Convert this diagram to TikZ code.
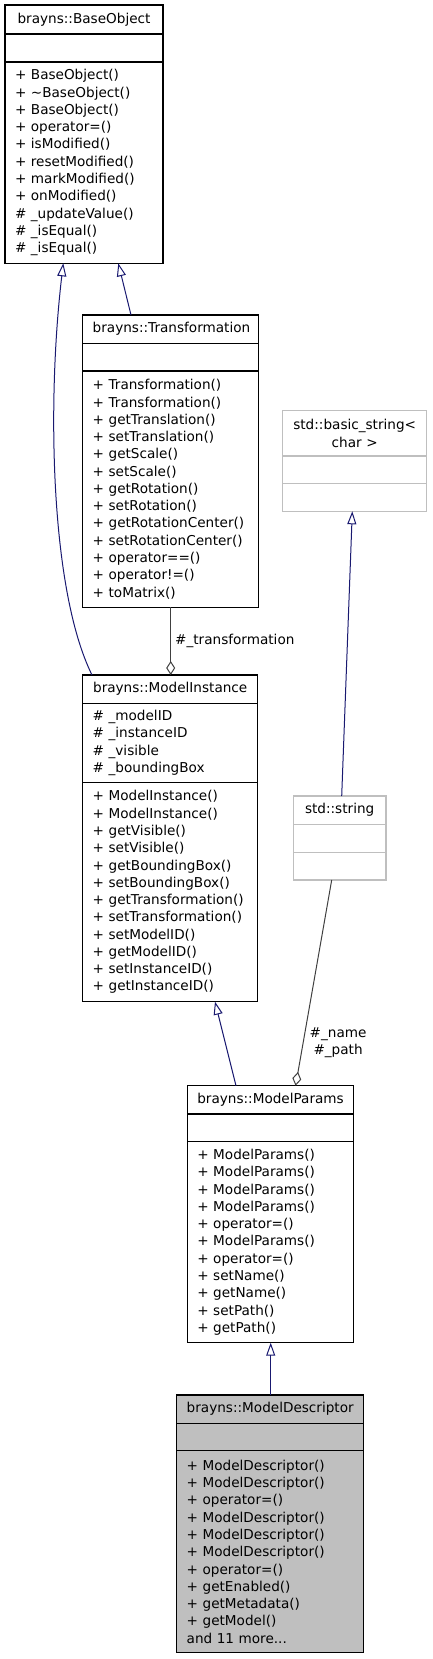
\documentclass[tikz,border=0pt]{standalone}
\usepackage{fontspec}
\newfontfamily\dvsans{DejaVu Sans}
\usetikzlibrary{arrows.meta}
\definecolor{edgeblue}{HTML}{191970}
\definecolor{edgegray}{HTML}{404040}
\definecolor{stdgray}{HTML}{BFBFBF}
\definecolor{descfill}{HTML}{BFBFBF}
\newcommand\umlfont{\dvsans\fontsize{13.6pt}{17.27pt}\selectfont}
\tikzset{
  x=1pt, y=-1pt,
  part/.style={draw=black, line width=1.1pt, rectangle, anchor=north west, outer sep=0pt,
    inner xsep=10pt, inner ysep=0pt, font=\umlfont, text width=#1},
  ttl/.style={align=center},
  lst/.style={align=left},
  stdpart/.style={draw=stdgray},
  inh/.style={draw=edgeblue, line width=1pt, -{Triangle[open, length=13pt, width=9pt]}},
  agg/.style={draw=edgegray, line width=1pt, -{Diamond[open, length=14pt, width=9pt]}},
  lbl/.style={font=\umlfont, inner sep=0pt, text=black}
}
\begin{document}
\begin{tikzpicture}
\useasboundingbox (0,0) rectangle (432,1659);

% brayns::BaseObject
\node[part=138pt, ttl, minimum height=29pt] (bo) at (5,5) {brayns::BaseObject};
\node[part=138pt, minimum height=28pt] (boa) at (bo.south west) {};
\node[part=138pt, lst, minimum height=201.3pt] (bom) at (boa.south west)
 {+ BaseObject()\\+ \textasciitilde BaseObject()\\+ BaseObject()\\+ operator=()\\+ isModified()\\+ resetModified()\\+ markModified()\\+ onModified()\\\# \_updateValue()\\\# \_isEqual()\\\# \_isEqual()};

% brayns::Transformation
\node[part=155.6pt, ttl, minimum height=28.3pt] (tr) at (82.7,315) {brayns::Transformation};
\node[part=155.6pt, minimum height=27.7pt] (tra) at (tr.south west) {};
\node[part=155.6pt, lst, minimum height=236.3pt] (trm) at (tra.south west)
 {+ Transformation()\\+ Transformation()\\+ getTranslation()\\+ setTranslation()\\+ getScale()\\+ setScale()\\+ getRotation()\\+ setRotation()\\+ getRotationCenter()\\+ setRotationCenter()\\+ operator==()\\+ operator!=()\\+ toMatrix()};

% std::basic_string< char >
\node[part=124pt, ttl, stdpart, minimum height=45.3pt] (bs) at (282.7,410.7) {std::basic\_string<\\char >};
\node[part=124pt, stdpart, minimum height=27.3pt] (bsa) at (bs.south west) {};
\node[part=124pt, stdpart, minimum height=28pt] (bsm) at (bsa.south west) {};

% brayns::ModelInstance
\node[part=155pt, ttl, minimum height=28.3pt] (mi) at (82.7,675) {brayns::ModelInstance};
\node[part=155pt, lst, minimum height=79.4pt] (mia) at (mi.south west)
 {\# \_modelID\\\# \_instanceID\\\# \_visible\\\# \_boundingBox};
\node[part=155pt, lst, minimum height=219pt] (mim) at (mia.south west)
 {+ ModelInstance()\\+ ModelInstance()\\+ getVisible()\\+ setVisible()\\+ getBoundingBox()\\+ setBoundingBox()\\+ getTransformation()\\+ setTransformation()\\+ setModelID()\\+ getModelID()\\+ setInstanceID()\\+ getInstanceID()};

% std::string
\node[part=72.7pt, ttl, stdpart, minimum height=28.3pt] (ss) at (293.3,796) {std::string};
\node[part=72.7pt, stdpart, minimum height=28.4pt] (ssa) at (ss.south west) {};
\node[part=72.7pt, stdpart, minimum height=27.3pt] (ssm) at (ssa.south west) {};

% brayns::ModelParams
\node[part=146pt, ttl, minimum height=28.3pt] (mp) at (187.3,1085.7) {brayns::ModelParams};
\node[part=146pt, minimum height=27.7pt] (mpa) at (mp.south west) {};
\node[part=146pt, lst, minimum height=201pt] (mpm) at (mpa.south west)
 {+ ModelParams()\\+ ModelParams()\\+ ModelParams()\\+ ModelParams()\\+ operator=()\\+ ModelParams()\\+ operator=()\\+ setName()\\+ getName()\\+ setPath()\\+ getPath()};

% brayns::ModelDescriptor
\node[part=166.6pt, ttl, fill=descfill, minimum height=28.3pt] (md) at (176.7,1395) {brayns::ModelDescriptor};
\node[part=166.6pt, fill=descfill, minimum height=27.4pt] (mda) at (md.south west) {};
\node[part=166.6pt, lst, fill=descfill, minimum height=201.9pt] (mdm) at (mda.south west)
 {+ ModelDescriptor()\\+ ModelDescriptor()\\+ operator=()\\+ ModelDescriptor()\\+ ModelDescriptor()\\+ ModelDescriptor()\\+ operator=()\\+ getEnabled()\\+ getMetadata()\\+ getModel()\\and 11 more...};

% connectors
\draw[inh] ([xshift=48.3pt]tr.north west) -- ([xshift=113.3pt]bom.south west);
\draw[inh] ([xshift=9.3pt]mi.north west) .. controls +(-42,-85) and +(-16.3,137.3) .. ([xshift=58.3pt]bom.south west);
\draw[agg] ([xshift=88pt]trm.south west) -- node[lbl, anchor=west, xshift=4pt, pos=0.5] (lt) {\#\_transformation} ([xshift=88pt]mi.north west);
\draw[inh] ([xshift=48.4pt]ss.north west) -- ([xshift=69.6pt]bsm.south west);
\draw[agg] ([xshift=38.4pt]ssm.south west) -- node[lbl, anchor=west, align=center, xshift=6pt, pos=0.79] (ln) {\#\_name\\\#\_path} ([xshift=108.3pt]mp.north west);
\draw[inh] ([xshift=48.7pt]mp.north west) -- ([xshift=132.3pt]mim.south west);
\draw[inh] ([xshift=94pt]md.north west) -- ([xshift=83.4pt]mpm.south west);
\end{tikzpicture}
\end{document}
